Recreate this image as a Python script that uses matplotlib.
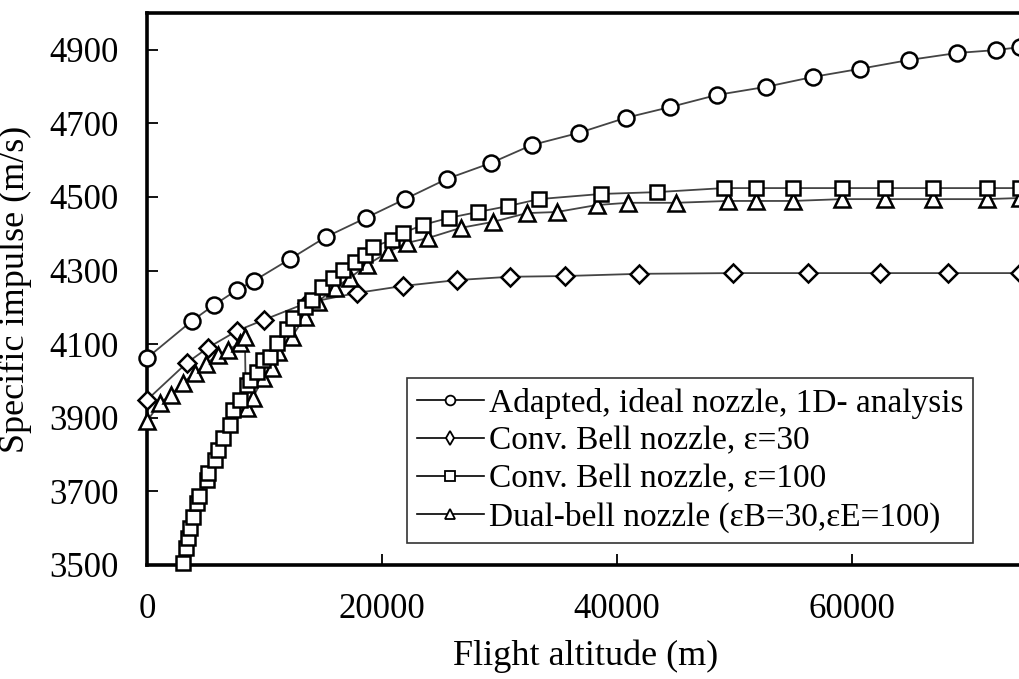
import matplotlib
matplotlib.use("Agg")
import matplotlib.pyplot as plt
from matplotlib.lines import Line2D

plt.rcParams['font.family'] = ['Liberation Serif', 'DejaVu Serif']

# adapted, ideal nozzle
alt_ideal = [0, 3830, 5700, 7660, 9110, 12170, 15230, 18640, 21960, 25530, 29270,
             32760, 36760, 40760, 44510, 48510, 52680, 56680, 60680, 64850, 68930,
             72250, 74300]
isp_ideal = [4062, 4163, 4206, 4247, 4272, 4331, 4391, 4443, 4494, 4549, 4592,
             4641, 4674, 4715, 4744, 4777, 4799, 4826, 4848, 4872, 4891,
             4899, 4907]

# conventional bell, eps = 30
alt_e30 = [0, 3400, 5190, 7660, 9960, 13600, 17870, 21790, 26380, 30890, 35570,
           41870, 49870, 56250, 62380, 68170, 74300]
isp_e30 = [3948, 4049, 4090, 4136, 4166, 4212, 4239, 4258, 4274, 4283, 4285,
           4291, 4293, 4293, 4293, 4293, 4293]

# conventional bell, eps = 100
alt_e100 = [3060, 3320, 3490, 3660, 3920, 4260, 4430, 5110, 5190, 5790, 6040,
            6470, 7060, 7320, 7910, 8510, 8770, 9360, 9870, 10470, 11060, 11910,
            12430, 13450, 14040, 14890, 15830, 16680, 17700, 18550, 19230, 20850,
            21790, 23490, 25700, 28170, 30720, 33360, 38640, 43400, 49100, 51830,
            54980, 59150, 62800, 66890, 71480, 74300]
isp_e100 = [3505, 3546, 3573, 3601, 3630, 3668, 3687, 3731, 3750, 3785, 3812,
            3845, 3880, 3921, 3948, 3989, 4003, 4024, 4057, 4065, 4103, 4140,
            4171, 4201, 4220, 4255, 4280, 4302, 4323, 4342, 4364, 4383,
            4402, 4424, 4443, 4459, 4475, 4494, 4508, 4513, 4524, 4524,
            4524, 4524, 4524, 4524, 4524, 4524]

# dual-bell (eps_B = 30, eps_E = 100), mode transition near 8400 m
alt_dual = [0, 1110, 2040, 3060, 4090, 5020, 6040, 6890, 7910, 8340, 8430,
            8510, 9020, 9870, 10640, 11150, 12340, 13450, 14550, 16000, 17280,
            18720, 20510, 22130, 23910, 26720, 29440, 32340, 34890, 38300, 40930,
            45020, 49440, 51830, 54980, 59150, 62800, 66890, 71480, 74300]
isp_dual = [3890, 3940, 3962, 3995, 4022, 4046, 4071, 4084, 4103, 4119, 3925,
            3927, 3954, 4008, 4035, 4079, 4120, 4174, 4215, 4253, 4280,
            4315, 4350, 4375, 4388, 4416, 4432, 4456, 4459, 4478, 4484,
            4484, 4489, 4489, 4489, 4494, 4494, 4494, 4494, 4497]

# which dual-bell points carry a marker (not the vertical drop corner)
dual_marked = [i for i in range(len(alt_dual)) if i != 10]

labels = ['Adapted, ideal nozzle, 1D- analysis',
          'Conv. Bell nozzle, \u03b5=30',
          'Conv. Bell nozzle, \u03b5=100',
          'Dual-bell nozzle (\u03b5B=30,\u03b5E=100)']

fig = plt.figure(figsize=(10.2, 6.79), dpi=100)
ax = fig.add_axes([0.144, 0.168, 0.856, 0.813])

line_kw = dict(color='#444444', lw=1.3, mfc='white', mec='black', mew=1.8,
               clip_on=False, zorder=3)

ax.plot(alt_ideal, isp_ideal, marker='o', ms=11.5, **line_kw)
ax.plot(alt_e30, isp_e30, marker='D', ms=9, **line_kw)
ax.plot(alt_dual, isp_dual, marker='^', ms=11, markevery=dual_marked, **line_kw)
ax.plot(alt_e100, isp_e100, marker='s', ms=10, **line_kw)

ax.set_xlim(0, 74300)
ax.set_ylim(3500, 5000)
ax.set_xticks([0, 20000, 40000, 60000])
ax.set_yticks(range(3500, 5000, 200))

ax.tick_params(axis='both', direction='in', length=8, width=1.3,
               labelsize=25, pad=20)
ax.spines['right'].set_visible(False)
for s in ['top', 'left', 'bottom']:
    ax.spines[s].set_linewidth(2.6)

ax.set_xlabel('Flight altitude (m)', fontsize=26)
ax.set_ylabel('Specific impulse (m/s)', fontsize=26)
ax.xaxis.set_label_coords(0.503, -0.135)
ax.yaxis.set_label_coords(-0.132, 0.5)

markers = ['o', 'd', 's', '^']
handles = [Line2D([], [], color='black', lw=1.2, marker=m, ms=7, mfc='white',
                  mec='black', mew=1.3) for m in markers]
leg = ax.legend(handles, labels, loc='lower left', bbox_to_anchor=(0.298, 0.04),
                fontsize=24, frameon=True, fancybox=False, framealpha=1,
                edgecolor='#333333', handlelength=2.0, handletextpad=0.15,
                labelspacing=0.22, borderpad=0.3, borderaxespad=0)
leg.get_frame().set_linewidth(1.2)

fig.savefig('out.png', dpi=100)
